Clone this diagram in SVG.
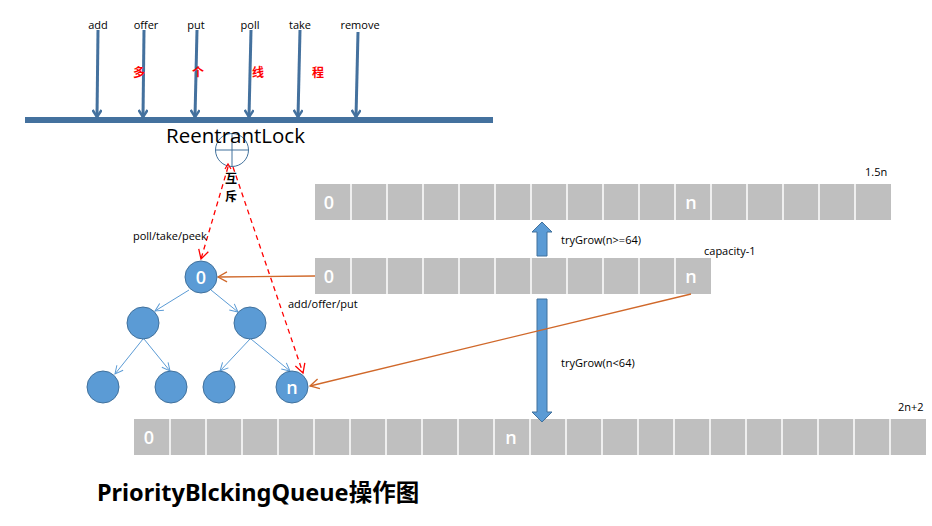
<svg xmlns="http://www.w3.org/2000/svg" width="932" height="526" viewBox="0 0 932 526">
<defs>
<style>
.lbl{font-family:"Open Sans","Noto Sans","DejaVu Sans",sans-serif;font-size:11px;fill:#000}
.red{font-family:"Noto Sans CJK SC",sans-serif;font-size:12px;font-weight:bold;fill:#FF0000}
.cell{fill:#BFBFBF}
.sep{stroke:#fff;stroke-width:1.5}
.num{font-family:"Open Sans","Noto Sans",sans-serif;font-size:18px;font-weight:600;fill:#fff;text-anchor:middle}
.thr{stroke:#44719E;stroke-width:3;fill:none;marker-end:url(#bh)}
.node{fill:#5B9BD5;stroke:#41719C;stroke-width:1}
.edge{stroke:#5B9BD5;stroke-width:1;fill:none;marker-end:url(#eh)}
.org{stroke:#D0682A;stroke-width:1.3;fill:none;marker-end:url(#oh)}
.dash{stroke:#FF0000;stroke-width:1.3;stroke-dasharray:5 4;fill:none;marker-end:url(#rh)}
.blk{fill:#5B9BD5;stroke:#41719C;stroke-width:1}
.cjk{font-family:"Noto Sans CJK SC",sans-serif;font-size:12px;font-weight:bold;fill:#000;text-anchor:middle}
</style>
<marker id="bh" markerWidth="10" markerHeight="10" refX="8" refY="5" orient="auto" markerUnits="userSpaceOnUse" viewBox="0 0 10 10"><path d="M1,0.5 L8,5 L1,9.5" fill="none" stroke="#44719E" stroke-width="2.5"/></marker>
<marker id="eh" markerWidth="10" markerHeight="10" refX="9" refY="5" orient="auto" markerUnits="userSpaceOnUse" viewBox="0 0 10 10"><path d="M1,1 L9,5 L1,9" fill="none" stroke="#5B9BD5" stroke-width="1"/></marker>
<marker id="oh" markerWidth="12" markerHeight="12" refX="10" refY="6" orient="auto" markerUnits="userSpaceOnUse" viewBox="0 0 12 12"><path d="M1,1 L10,6 L1,11" fill="none" stroke="#D0682A" stroke-width="1.3"/></marker>
<marker id="rh" markerWidth="12" markerHeight="12" refX="10" refY="6" orient="auto" markerUnits="userSpaceOnUse" viewBox="0 0 12 12"><path d="M1,1 L10,6 L1,11" fill="none" stroke="#FF0000" stroke-width="1.3"/></marker>
</defs>
<rect width="932" height="526" fill="#fff"/>

<g id="threads">
<rect x="25" y="117" width="468" height="6" fill="#44719E"/>
<line class="thr" x1="98" y1="30" x2="97" y2="117"/>
<line class="thr" x1="144" y1="30" x2="143" y2="117"/>
<line class="thr" x1="197" y1="30" x2="195" y2="117"/>
<line class="thr" x1="251" y1="30" x2="249" y2="117"/>
<line class="thr" x1="300" y1="30" x2="298" y2="117"/>
<line class="thr" x1="358" y1="32" x2="356" y2="117"/>
<text class="lbl" x="98" y="29" text-anchor="middle">add</text>
<text class="lbl" x="146" y="29" text-anchor="middle">offer</text>
<text class="lbl" x="196" y="29" text-anchor="middle">put</text>
<text class="lbl" x="250" y="29" text-anchor="middle">poll</text>
<text class="lbl" x="300" y="29" text-anchor="middle">take</text>
<text class="lbl" x="360" y="29" text-anchor="middle">remove</text>
<text class="red" x="139" y="77" text-anchor="middle">多</text>
<text class="red" x="198" y="77" text-anchor="middle">个</text>
<text class="red" x="258" y="77" text-anchor="middle">线</text>
<text class="red" x="318" y="77" text-anchor="middle">程</text>
</g>

<g id="lock">
<circle cx="232" cy="150" r="16.5" fill="none" stroke="#41719C" stroke-width="1"/>
<line x1="215.5" y1="150" x2="248.5" y2="150" stroke="#41719C" stroke-width="1"/>
<line x1="232" y1="133.5" x2="232" y2="166.5" stroke="#41719C" stroke-width="1"/>
<text x="235.5" y="143" text-anchor="middle" font-family="'Open Sans','Noto Sans',sans-serif" font-size="20.5" fill="#000">ReentrantLock</text>
<text class="cjk" x="231" y="183">互</text>
<text class="cjk" x="231" y="201">斥</text>
</g>

<g id="array15">
<rect class="cell" x="315" y="184" width="576" height="36"/>
<path class="sep" d="M351,184v36M387,184v36M423,184v36M459,184v36M495,184v36M531,184v36M567,184v36M603,184v36M639,184v36M675,184v36M711,184v36M747,184v36M783,184v36M819,184v36M855,184v36"/>
<text class="num" x="329" y="209">0</text>
<text class="num" x="691" y="209">n</text>
<text class="lbl" x="865" y="176">1.5n</text>
</g>

<g id="arraycap">
<rect class="cell" x="315" y="258" width="396" height="36"/>
<path class="sep" d="M351,258v36M387,258v36M423,258v36M459,258v36M495,258v36M531,258v36M567,258v36M603,258v36M639,258v36M675,258v36"/>
<text class="num" x="329" y="283">0</text>
<text class="num" x="691" y="283">n</text>
<text class="lbl" x="704" y="255">capacity-1</text>
</g>

<g id="array2n">
<rect class="cell" x="134" y="419" width="792" height="36"/>
<path class="sep" d="M170,419v36M206,419v36M242,419v36M278,419v36M314,419v36M350,419v36M386,419v36M422,419v36M458,419v36M494,419v36M530,419v36M566,419v36M602,419v36M638,419v36M674,419v36M710,419v36M746,419v36M782,419v36M818,419v36M854,419v36M890,419v36"/>
<text class="num" x="149" y="444">0</text>
<text class="num" x="511" y="444">n</text>
<text class="lbl" x="898" y="411">2n+2</text>
</g>

<g id="grow">
<polygon class="blk" points="537,256 547,256 547,232 552,232 542,222 532,232 537,232"/>
<polygon class="blk" points="537,299 547,299 547,412 552,412 542,422 532,412 537,412"/>
<text class="lbl" x="561" y="244">tryGrow(n&gt;=64)</text>
<text class="lbl" x="561" y="367">tryGrow(n&lt;64)</text>
</g>

<g id="connectors">
<line class="edge" x1="189" y1="290" x2="155" y2="311"/>
<line class="edge" x1="211" y1="290" x2="238" y2="312"/>
<line class="edge" x1="143" y1="339" x2="115" y2="374"/>
<line class="edge" x1="144" y1="339" x2="170" y2="371"/>
<line class="edge" x1="250" y1="339" x2="220" y2="371"/>
<line class="edge" x1="251" y1="339" x2="290" y2="371"/>
<line class="org" x1="315" y1="276" x2="218" y2="277"/>
<line class="org" x1="691" y1="294" x2="310" y2="386"/>
<line class="dash" x1="228" y1="167" x2="201" y2="259"/>
<line class="dash" x1="233" y1="167" x2="303" y2="373"/>
<path d="M225,169 L228,164 L231,169" fill="none" stroke="#FF0000" stroke-width="1.2"/>
<text class="lbl" x="133" y="240">poll/take/peek</text>
<text class="lbl" x="288" y="308">add/offer/put</text>
</g>

<g id="tree">
<circle class="node" cx="201" cy="277" r="16"/>
<text class="num" x="201" y="284">0</text>
<circle class="node" cx="143" cy="323" r="16"/>
<circle class="node" cx="250" cy="323" r="16"/>
<circle class="node" cx="103" cy="387" r="16"/>
<circle class="node" cx="171" cy="387" r="16"/>
<circle class="node" cx="219" cy="387" r="16"/>
<circle class="node" cx="292" cy="387" r="16"/>
<text class="num" x="292" y="394">n</text>
</g>

<g id="title">
<text x="97" y="501" font-family="'Noto Sans','Noto Sans CJK SC',sans-serif" font-size="23.5" font-weight="bold" fill="#000">PriorityBlckingQueue操作图</text>
</g>
</svg>
